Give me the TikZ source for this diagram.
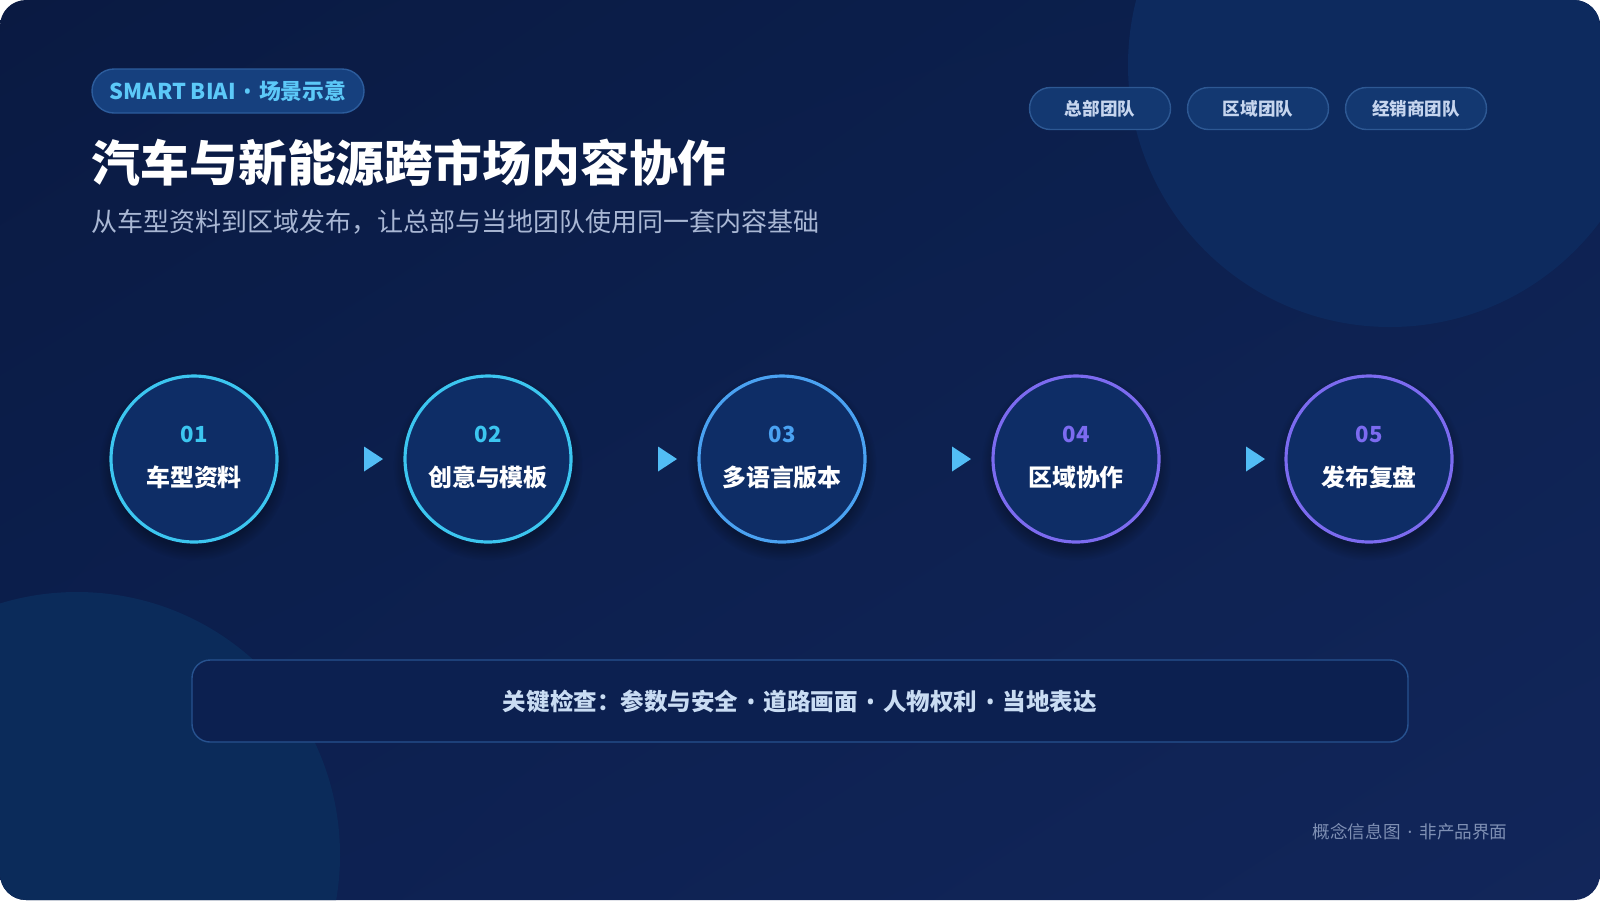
\documentclass[tikz,border=0pt]{standalone}
\usepackage{fontspec}
\setmainfont{Noto Sans CJK SC}
\newfontfamily\dotfont{Noto Sans}
\usepackage{xcolor}
\usepackage{tikz}
\usetikzlibrary{positioning,shadows,shadings}

\definecolor{bgtl}{HTML}{0A1A42}
\definecolor{bgtr}{HTML}{0C2150}
\definecolor{bgbl}{HTML}{0C2050}
\definecolor{bgbr}{HTML}{12265A}
\definecolor{blobtr}{HTML}{0D2A5E}
\definecolor{blobbl}{HTML}{0B2B5A}
\definecolor{stepfill}{HTML}{0E2D66}
\definecolor{ringcyan}{HTML}{3CC6F0}
\definecolor{ringblue}{HTML}{4AA2F2}
\definecolor{ringviolet}{HTML}{7C6BF0}
\definecolor{tipblue}{HTML}{52BDF5}
\definecolor{badgefill}{HTML}{16407E}
\definecolor{badgeline}{HTML}{2C5C9C}
\definecolor{badgetext}{HTML}{5CC9F8}
\definecolor{pillfill}{HTML}{133871}
\definecolor{pillline}{HTML}{2D5893}
\definecolor{pilltext}{HTML}{C6D5EE}
\definecolor{subtext}{HTML}{A9B7D4}
\definecolor{checkfill}{HTML}{0C2050}
\definecolor{checkline}{HTML}{27528F}
\definecolor{checktext}{HTML}{C9DCF3}
\definecolor{foottext}{HTML}{7F90B4}

\newcommand{\sepdot}{{\dotfont\hspace{0.35em}•\hspace{0.35em}}}

\tikzset{
  stepring/.style={circle, draw=#1, line width=0.9pt, fill=stepfill,
    minimum size=1.66cm, inner sep=0pt,
    circular drop shadow={shadow xshift=0pt, shadow yshift=-0.06cm,
      shadow scale=1.14, opacity=0.3, fill=black}},
  stepnum/.style={text=#1, inner sep=0pt, font=\bfseries\fontsize{6.3pt}{7pt}\selectfont},
  steplabel/.style={text=white, inner sep=0pt, font=\bfseries\fontsize{6.8pt}{8pt}\selectfont},
  flowtip/.style={fill=tipblue},
  teampill/.style={draw=pillline, line width=0.4pt, fill=pillfill, rounded corners=0.21cm,
    minimum width=1.41cm, minimum height=0.42cm, inner sep=0pt, text=pilltext,
    font=\bfseries\fontsize{5pt}{6pt}\selectfont}
}

\begin{document}
\begin{tikzpicture}
    \useasboundingbox (0,0) rectangle (16,-9);
    \fill [white] (0,0) rectangle (16,-9);
    \shade [rounded corners=0.26cm, upper left=bgtl, upper right=bgtr,
      lower left=bgbl, lower right=bgbr] (0,0) rectangle (16,-9);
    \begin{scope}
      \clip [rounded corners=0.26cm] (0,0) rectangle (16,-9);
      \fill [blobtr] (13.9,-0.65) circle (2.62);
      \fill [blobbl] (0.77,-8.55) circle (2.63);
    \end{scope}

    \coordinate (C1) at (1.94,-4.59);
    \coordinate (C2) at (4.88,-4.59);
    \coordinate (C3) at (7.82,-4.59);
    \coordinate (C4) at (10.76,-4.59);
    \coordinate (C5) at (13.69,-4.59);

    \node [draw=badgeline, line width=0.4pt, fill=badgefill, rounded corners=0.22cm,
      minimum width=2.72cm, minimum height=0.44cm, inner sep=0pt, text=badgetext,
      font=\bfseries\fontsize{6.2pt}{7pt}\selectfont] (badge) at (2.28,-0.91) {SMART BIAI\sepdot{}场景示意};
    \node [anchor=west, inner sep=0pt, text=white,
      font=\bfseries\fontsize{13.9pt}{16pt}\selectfont] (title) at (0.91,-1.63) {汽车与新能源跨市场内容协作};
    \node [anchor=west, inner sep=0pt, text=subtext,
      font=\fontsize{7.4pt}{9pt}\selectfont] (subtitle) at (0.91,-2.22) {从车型资料到区域发布，让总部与当地团队使用同一套内容基础};

    \node [teampill] (hq) at (11.0,-1.085) {总部团队};
    \node [teampill] (region) at (12.58,-1.085) {区域团队};
    \node [teampill] (dealer) at (14.16,-1.085) {经销商团队};

    \node [stepring=ringcyan] (s1) at (C1) {};
    \node [stepnum=ringcyan] (n1) at ([yshift=0.25cm]s1.center) {01};
    \node [steplabel] (l1) at ([yshift=-0.18cm]s1.center) {车型资料};

    \node [stepring=ringcyan] (s2) at (C2) {};
    \node [stepnum=ringcyan] (n2) at ([yshift=0.25cm]s2.center) {02};
    \node [steplabel] (l2) at ([yshift=-0.18cm]s2.center) {创意与模板};

    \node [stepring=ringblue] (s3) at (C3) {};
    \node [stepnum=ringblue] (n3) at ([yshift=0.25cm]s3.center) {03};
    \node [steplabel] (l3) at ([yshift=-0.18cm]s3.center) {多语言版本};

    \node [stepring=ringviolet] (s4) at (C4) {};
    \node [stepnum=ringviolet] (n4) at ([yshift=0.25cm]s4.center) {04};
    \node [steplabel] (l4) at ([yshift=-0.18cm]s4.center) {区域协作};

    \node [stepring=ringviolet] (s5) at (C5) {};
    \node [stepnum=ringviolet] (n5) at ([yshift=0.25cm]s5.center) {05};
    \node [steplabel] (l5) at ([yshift=-0.18cm]s5.center) {发布复盘};

    \fill [flowtip] ([xshift=1.70cm,yshift=0.125cm]s1.center) -- ++(0.19,-0.125) -- ++(-0.19,-0.125) -- cycle;
    \fill [flowtip] ([xshift=1.70cm,yshift=0.125cm]s2.center) -- ++(0.19,-0.125) -- ++(-0.19,-0.125) -- cycle;
    \fill [flowtip] ([xshift=1.70cm,yshift=0.125cm]s3.center) -- ++(0.19,-0.125) -- ++(-0.19,-0.125) -- cycle;
    \fill [flowtip] ([xshift=1.70cm,yshift=0.125cm]s4.center) -- ++(0.19,-0.125) -- ++(-0.19,-0.125) -- cycle;

    \node [draw=checkline, line width=0.4pt, fill=checkfill, rounded corners=0.18cm,
      minimum width=12.16cm, minimum height=0.82cm, inner sep=0pt, text=checktext,
      font=\bfseries\fontsize{6.7pt}{8pt}\selectfont] (checks) at (8.0,-7.01)
      {关键检查：参数与安全\sepdot{}道路画面\sepdot{}人物权利\sepdot{}当地表达};

    \node [anchor=east, inner sep=0pt, text=foottext,
      font=\fontsize{5pt}{6pt}\selectfont] (footer) at (15.08,-8.32) {概念信息图{\dotfont\hspace{0.4em}·\hspace{0.4em}}非产品界面};
  \end{tikzpicture}
\end{document}
